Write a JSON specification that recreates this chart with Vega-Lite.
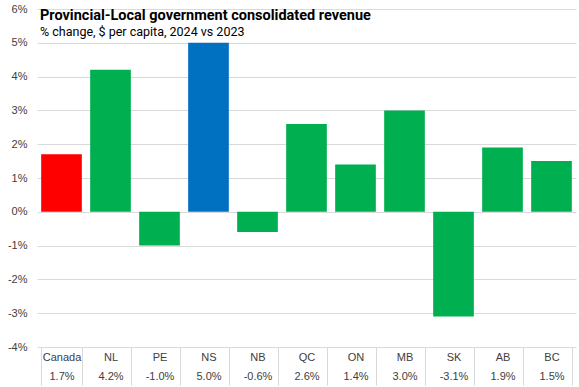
{
  "$schema": "https://vega.github.io/schema/vega-lite/v6.json",
  "width": 539,
  "height": 338,
  "autosize": "none",
  "padding": {"left": 37, "top": 9, "right": 3, "bottom": 40},
  "background": "white",
  "title": {
    "text": "Provincial-Local government consolidated revenue",
    "subtitle": "% change, $ per capita, 2024 vs 2023",
    "anchor": "start",
    "frame": "group",
    "orient": "top",
    "offset": -36,
    "dx": 3,
    "font": "Roboto",
    "fontSize": 14.5,
    "fontWeight": "bold",
    "color": "#000000",
    "subtitleFont": "Roboto",
    "subtitleFontSize": 12.5,
    "subtitleColor": "#000000",
    "subtitlePadding": 2
  },
  "data": {
    "values": [
      {"cat": "Canada|1.7%", "value": 1.7, "grp": "Canada"},
      {"cat": "NL|4.2%", "value": 4.2, "grp": "Other"},
      {"cat": "PE|-1.0%", "value": -1.0, "grp": "Other"},
      {"cat": "NS|5.0%", "value": 5.0, "grp": "NS"},
      {"cat": "NB|-0.6%", "value": -0.6, "grp": "Other"},
      {"cat": "QC|2.6%", "value": 2.6, "grp": "Other"},
      {"cat": "ON|1.4%", "value": 1.4, "grp": "Other"},
      {"cat": "MB|3.0%", "value": 3.0, "grp": "Other"},
      {"cat": "SK|-3.1%", "value": -3.1, "grp": "Other"},
      {"cat": "AB|1.9%", "value": 1.9, "grp": "Other"},
      {"cat": "BC|1.5%", "value": 1.5, "grp": "Other"}
    ]
  },
  "mark": {"type": "bar"},
  "encoding": {
    "x": {
      "field": "cat",
      "type": "nominal",
      "sort": null,
      "scale": {"paddingInner": 0.17, "paddingOuter": 0.085},
      "axis": {
        "title": null,
        "labelAngle": 0,
        "labelExpr": "split(datum.label, '|')",
        "labelBaseline": "top",
        "labelLineHeight": 19,
        "labelPadding": -34,
        "labelFont": "Liberation Sans",
        "labelFontSize": 11,
        "labelColor": "#404040",
        "domain": false,
        "ticks": true,
        "tickBand": "extent",
        "tickSize": 38,
        "tickColor": "#D9D9D9",
        "tickWidth": 1
      }
    },
    "y": {
      "field": "value",
      "type": "quantitative",
      "scale": {"domain": [-4, 6], "nice": false},
      "axis": {
        "title": null,
        "values": [-4, -3, -2, -1, 0, 1, 2, 3, 4, 5, 6],
        "labelExpr": "datum.value + '%'",
        "labelFont": "Liberation Sans",
        "labelFontSize": 11,
        "labelColor": "#404040",
        "labelPadding": 10,
        "ticks": false,
        "domain": false,
        "grid": true,
        "gridColor": "#D9D9D9",
        "gridWidth": 1
      }
    },
    "color": {
      "field": "grp",
      "type": "nominal",
      "scale": {"domain": ["Canada", "NS", "Other"], "range": ["#FF0000", "#0070C0", "#00B050"]},
      "legend": null
    }
  },
  "config": {"view": {"stroke": null}}
}
